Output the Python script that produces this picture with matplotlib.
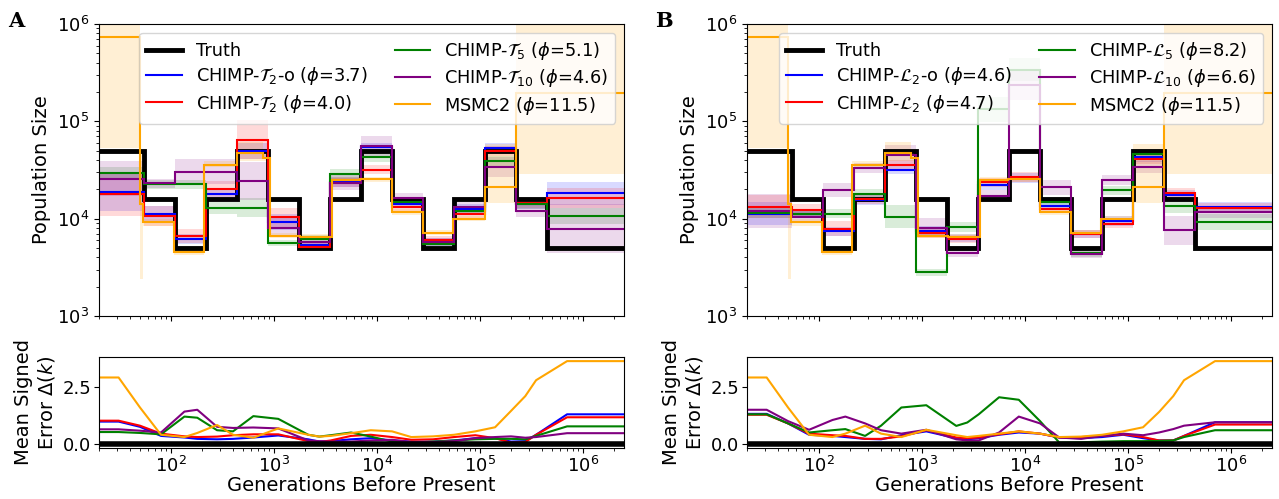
import numpy as np
import matplotlib
matplotlib.use('Agg')
import matplotlib.pyplot as plt
from matplotlib.lines import Line2D
from matplotlib.ticker import LogLocator, NullFormatter

# --- step boundaries (generations) and true population size ---
EDGES = [20, 55, 110, 220, 440, 880, 1760, 3520, 7040, 14080, 28160,
         56320, 112640, 225280, 450560, 2.5e6]
TRUTH = [5e4, 1.58e4, 5e3, 1.58e4, 5e4, 1.58e4, 5e3, 1.58e4, 5e4, 1.58e4,
         5e3, 1.58e4, 5e4, 1.58e4, 5e3]

# --- panel A estimates (one value per step) ---
A_BLUE = [1.89e4, 1.11e4, 6.2e3, 1.78e4, 4.95e4, 9.3e3, 5.4e3, 2.4e4, 5.4e4,
          1.42e4, 5.8e3, 1.25e4, 5.3e4, 1.4e4, 1.82e4]
A_RED = [1.78e4, 1.07e4, 6.6e3, 2.03e4, 6.45e4, 1.03e4, 5.15e3, 2.35e4, 3.2e4,
         1.33e4, 6.1e3, 1.13e4, 5.0e4, 1.45e4, 1.63e4]
A_GREEN = [2.93e4, 2.25e4, 2.25e4, 1.28e4, 1.3e4, 5.6e3, 6.2e3, 2.88e4, 4.3e4,
           1.5e4, 5.5e3, 1.21e4, 3.9e4, 1.42e4, 1.06e4]
A_PURPLE = [2.56e4, 2.3e4, 3.04e4, 3.04e4, 2.44e4, 8.1e3, 5.7e3, 2.35e4, 5.6e4,
            1.62e4, 5.8e3, 1.31e4, 3.4e4, 1.21e4, 7.9e3]
# band half widths (log10)
A_BLUE_W = [0.2, 0.08, 0.05, 0.06, 0.08, 0.08, 0.04, 0.05, 0.05, 0.04, 0.04, 0.05, 0.05, 0.05, 0.12]
A_RED_W = [0.22, 0.1, 0.07, 0.08, 0.2, 0.1, 0.04, 0.05, 0.05, 0.04, 0.04, 0.05, 0.05, 0.05, 0.1]
A_GREEN_W = [0.06, 0.05, 0.05, 0.06, 0.1, 0.03, 0.04, 0.05, 0.05, 0.04, 0.04, 0.05, 0.05, 0.05, 0.08]
A_PURPLE_W = [0.18, 0.05, 0.13, 0.13, 0.2, 0.1, 0.04, 0.08, 0.1, 0.05, 0.04, 0.05, 0.1, 0.07, 0.25]

# --- panel B estimates ---
B_BLUE = [1.13e4, 1.13e4, 7.4e3, 1.55e4, 3.2e4, 7.5e3, 6.3e3, 2.2e4, 2.6e4,
          1.35e4, 6.9e3, 9.5e3, 4.3e4, 1.75e4, 1.31e4]
B_RED = [1.33e4, 1.23e4, 7.9e3, 1.6e4, 3.6e4, 7.1e3, 6.2e3, 2.36e4, 2.66e4,
         1.25e4, 6.9e3, 8.9e3, 4.1e4, 1.85e4, 1.28e4]
B_GREEN = [1.15e4, 1.13e4, 1.13e4, 1.78e4, 1.05e4, 2.8e3, 8.2e3, 1.33e5, 3.4e5,
           1.49e4, 4.4e3, 1.95e4, 4.6e4, 1.35e4, 9.3e3]
B_PURPLE = [1.2e4, 1.05e4, 1.97e4, 3.3e4, 4.5e4, 8.1e3, 4.4e3, 1.7e4, 2.35e5,
            2.1e4, 4.3e3, 2.5e4, 3.4e4, 7.6e3, 1.16e4]
B_BLUE_W = [0.12, 0.05, 0.05, 0.05, 0.05, 0.05, 0.04, 0.05, 0.05, 0.04, 0.04, 0.05, 0.05, 0.05, 0.05]
B_RED_W = [0.12, 0.06, 0.08, 0.05, 0.05, 0.05, 0.04, 0.05, 0.05, 0.04, 0.04, 0.05, 0.05, 0.05, 0.05]
B_GREEN_W = [0.05, 0.05, 0.05, 0.05, 0.12, 0.04, 0.05, 0.13, 0.12, 0.05, 0.04, 0.05, 0.05, 0.07, 0.08]
B_PURPLE_W = [0.17, 0.06, 0.07, 0.05, 0.1, 0.1, 0.04, 0.06, 0.15, 0.08, 0.04, 0.05, 0.06, 0.15, 0.06]

# --- MSMC2 (same in both panels) ---
MSMC_EDGES = [20, 50, 53, 107, 209, 437, 776, 910, 1790, 3640, 6800, 14000,
              28000, 55000, 112000, 224000, 2.5e6]
MSMC_VALS = [7.3e5, 1.4e4, 9.3e3, 4.5e3, 3.6e4, 4.7e4, 4.2e4, 6.7e3, 6.5e3, 2.5e4,
             2.55e4, 1.17e4, 7.2e3, 1.0e4, 2.1e4, 1.94e5]
MSMC_LO = [5.3e4, 2.4e3, 8.5e3, 4.2e3, 3.4e4, 3.9e4, 3.9e4, 6.3e3, 6.1e3, 2.35e4,
           2.4e4, 1.1e4, 6.8e3, 9.4e3, 1.45e4, 2.9e4]
MSMC_HI = [3e6, 5.0e4, 1.0e4, 4.9e3, 3.9e4, 6.2e4, 4.6e4, 7.2e3, 7.0e3, 2.7e4,
           2.7e4, 1.25e4, 7.7e3, 1.07e4, 5.9e4, 3e6]

# --- mean signed error curves ---
ERR_T = [20, 31, 50, 80, 135, 180, 280, 400, 630, 1100, 2150, 2750, 3550, 5600,
         8700, 14000, 21500, 35000, 56000, 90000, 140000, 200000, 275000,
         350000, 700000, 2500000]
A_ERR_ORANGE = [2.92, 2.92, 1.6, 0.4, 0.3, 0.48, 0.83, 0.4, 0.27, 0.68, 0.4, 0.32, 0.35,
                0.47, 0.6, 0.55, 0.3, 0.33, 0.4, 0.55, 0.73, 1.45, 2.1, 2.8, 3.64, 3.64]
A_ERR_BLUE = [0.98, 0.98, 0.75, 0.35, 0.28, 0.22, 0.2, 0.22, 0.28, 0.37, 0.2, 0.1, 0.12,
              0.2, 0.25, 0.15, 0.1, 0.1, 0.15, 0.25, 0.25, 0.1, 0.12, 0.4, 1.3, 1.3]
A_ERR_RED = [1.02, 1.02, 0.8, 0.45, 0.33, 0.3, 0.32, 0.38, 0.42, 0.42, 0.12, 0.08, 0.15,
             0.35, 0.4, 0.3, 0.18, 0.2, 0.3, 0.38, 0.25, 0.05, 0.08, 0.4, 1.17, 1.17]
A_ERR_GREEN = [0.52, 0.52, 0.48, 0.42, 1.2, 1.15, 0.6, 0.55, 1.22, 1.1, 0.4, 0.32, 0.38,
               0.5, 0.32, 0.1, 0.05, 0.1, 0.15, 0.2, 0.22, 0.22, 0.2, 0.35, 0.77, 0.77]
A_ERR_PURPLE = [0.64, 0.64, 0.58, 0.5, 1.42, 1.5, 0.75, 0.7, 0.72, 0.68, 0.15, 0.12, 0.1,
                0.1, 0.15, 0.18, 0.08, 0.08, 0.12, 0.25, 0.3, 0.33, 0.27, 0.3, 0.47, 0.47]

B_ERR_ORANGE = [2.92, 2.92, 1.6, 0.4, 0.3, 0.45, 0.8, 0.45, 0.3, 0.62, 0.38, 0.3, 0.35,
                0.45, 0.55, 0.45, 0.3, 0.32, 0.4, 0.55, 0.73, 1.4, 2.1, 2.8, 3.64, 3.64]
B_ERR_BLUE = [1.32, 1.32, 0.9, 0.4, 0.35, 0.3, 0.22, 0.2, 0.38, 0.55, 0.25, 0.2, 0.25,
              0.4, 0.5, 0.45, 0.28, 0.25, 0.3, 0.4, 0.25, 0.15, 0.15, 0.35, 0.95, 0.95]
B_ERR_RED = [1.28, 1.28, 0.9, 0.45, 0.38, 0.35, 0.22, 0.22, 0.33, 0.6, 0.28, 0.25, 0.28,
             0.42, 0.55, 0.45, 0.28, 0.3, 0.35, 0.42, 0.3, 0.15, 0.15, 0.35, 0.85, 0.85]
B_ERR_GREEN = [1.3, 1.3, 0.9, 0.5, 0.6, 0.65, 0.35, 0.8, 1.6, 1.7, 0.79, 0.94, 1.3,
               2.05, 1.94, 1.0, 0.06, 0.07, 0.1, 0.12, 0.12, 0.13, 0.15, 0.3, 0.6, 0.6]
B_ERR_PURPLE = [1.5, 1.5, 1.0, 0.62, 1.05, 1.2, 0.9, 0.6, 0.45, 0.62, 0.2, 0.15, 0.15,
                0.5, 1.2, 0.9, 0.28, 0.22, 0.35, 0.45, 0.38, 0.5, 0.65, 0.8, 0.95, 0.95]

LABELS_A = ['Truth', r'CHIMP-$\mathcal{T}_2$-o ($\phi$=3.7)', r'CHIMP-$\mathcal{T}_2$ ($\phi$=4.0)',
            r'CHIMP-$\mathcal{T}_5$ ($\phi$=5.1)', r'CHIMP-$\mathcal{T}_{10}$ ($\phi$=4.6)',
            r'MSMC2 ($\phi$=11.5)']
LABELS_B = ['Truth', r'CHIMP-$\mathcal{L}_2$-o ($\phi$=4.6)', r'CHIMP-$\mathcal{L}_2$ ($\phi$=4.7)',
            r'CHIMP-$\mathcal{L}_5$ ($\phi$=8.2)', r'CHIMP-$\mathcal{L}_{10}$ ($\phi$=6.6)',
            r'MSMC2 ($\phi$=11.5)']

COLORS = ['blue', 'red', 'green', 'purple']
XLIM = (20, 2.5e6)


def draw_top(ax, estimates, widths, labels):
    for vals, w, c in zip(estimates, widths, COLORS):
        vals = np.array(vals)
        w = np.array(w)
        ax.stairs(vals * 10 ** w, EDGES, baseline=vals / 10 ** w, fill=True,
                  color=c, alpha=0.15, lw=0)
    ax.stairs(MSMC_HI, MSMC_EDGES, baseline=MSMC_LO, fill=True,
              color='orange', alpha=0.17, lw=0)
    ax.stairs(TRUTH, EDGES, baseline=None, color='black', lw=3.5)
    for vals, c in zip(estimates, COLORS):
        ax.stairs(vals, EDGES, baseline=None, color=c, lw=1.5)
    ax.stairs(MSMC_VALS, MSMC_EDGES, baseline=None, color='orange', lw=1.5)

    ax.set_xscale('log')
    ax.set_yscale('log')
    ax.set_xlim(*XLIM)
    ax.set_ylim(1e3, 1e6)
    ax.xaxis.set_major_locator(LogLocator(base=10, numticks=12))
    ax.xaxis.set_major_formatter(NullFormatter())
    ax.xaxis.set_minor_formatter(NullFormatter())
    ax.set_ylabel('Population Size', fontsize=14)
    ax.tick_params(labelsize=13)

    handles = [Line2D([], [], color='black', lw=3.5)]
    handles += [Line2D([], [], color=c, lw=1.5) for c in COLORS + ['orange']]
    ax.legend(handles, labels, loc='upper right', ncol=2, fontsize=12.8,
              columnspacing=1.5, labelspacing=0.3, handletextpad=0.8)


def draw_bottom(ax, errors):
    for vals, c in zip(errors, COLORS + ['orange']):
        ax.plot(ERR_T, vals, color=c, lw=1.5)
    ax.plot(XLIM, [0, 0], color='black', lw=4, zorder=5)
    ax.set_xscale('log')
    ax.set_xlim(*XLIM)
    ax.xaxis.set_major_locator(LogLocator(base=10, numticks=12))
    ax.set_yticks([0, 2.5])
    ax.tick_params(labelsize=13, pad=2)
    ax.set_ylabel('Mean Signed\nError $\\Delta(k)$', fontsize=14)
    ax.set_xlabel('Generations Before Present', fontsize=14, labelpad=0)


fig = plt.figure(figsize=(12.79, 4.99), dpi=100)

ax_a = fig.add_axes([0.0774, 0.3667, 0.4105, 0.5852])
ax_a2 = fig.add_axes([0.0774, 0.1022, 0.4105, 0.1824])
ax_b = fig.add_axes([0.5841, 0.3667, 0.4104, 0.5852])
ax_b2 = fig.add_axes([0.5841, 0.1022, 0.4104, 0.1824])

draw_top(ax_a, [A_BLUE, A_RED, A_GREEN, A_PURPLE],
         [A_BLUE_W, A_RED_W, A_GREEN_W, A_PURPLE_W], LABELS_A)
draw_top(ax_b, [B_BLUE, B_RED, B_GREEN, B_PURPLE],
         [B_BLUE_W, B_RED_W, B_GREEN_W, B_PURPLE_W], LABELS_B)
draw_bottom(ax_a2, [A_ERR_BLUE, A_ERR_RED, A_ERR_GREEN, A_ERR_PURPLE, A_ERR_ORANGE])
draw_bottom(ax_b2, [B_ERR_BLUE, B_ERR_RED, B_ERR_GREEN, B_ERR_PURPLE, B_ERR_ORANGE])

fig.text(0.006, 0.946, 'A', fontsize=15, fontweight='bold', family='DejaVu Serif')
fig.text(0.512, 0.946, 'B', fontsize=15, fontweight='bold', family='DejaVu Serif')

fig.savefig('out.png', dpi=100)
